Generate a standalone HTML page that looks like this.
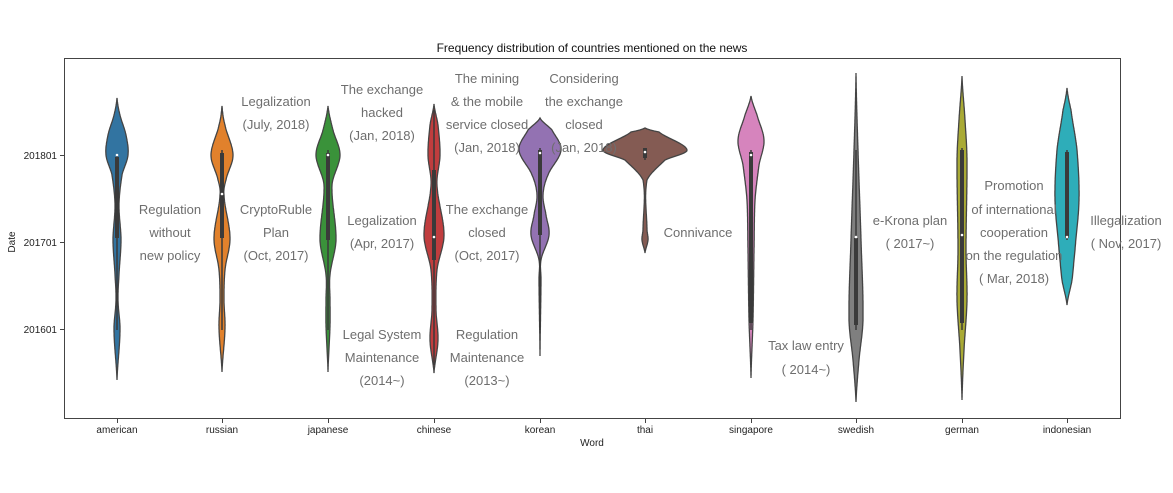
<!DOCTYPE html>
<html><head><meta charset="utf-8"><style>
body{margin:0;background:#fff;}
svg text{font-family:"Liberation Sans","DejaVu Sans",sans-serif;}
.a{font-size:13px;fill:#6e6e6e;text-anchor:middle;}
.t{font-size:10px;fill:#222;}
</style></head><body>
<svg id="s" width="1173" height="488" xmlns="http://www.w3.org/2000/svg">
<rect width="1173" height="488" fill="#fff"/>
<text x="592" y="52" font-size="12" text-anchor="middle" fill="#111">Frequency distribution of countries mentioned on the news</text>
<g id="v"></g>
<rect x="64.5" y="58.5" width="1056" height="360" fill="none" stroke="#444" stroke-width="1"/>
<g class="t" text-anchor="end">
<text x="57" y="159">201801</text><text x="57" y="246">201701</text><text x="57" y="333">201601</text>
</g>
<g stroke="#444"><line x1="60" x2="64" y1="155.5" y2="155.5"/><line x1="60" x2="64" y1="242.5" y2="242.5"/><line x1="60" x2="64" y1="329.5" y2="329.5"/></g>
<g id="xt" class="t" text-anchor="middle"></g>
<text x="592" y="446" font-size="10" text-anchor="middle" fill="#222">Word</text>
<text transform="translate(15,242) rotate(-90)" font-size="10" text-anchor="middle" fill="#222">Date</text>
<g id="ann" class="a"></g>
</svg>
<script>
var V=[
["american",117,"#3274a1",[[98,0],[115,3],[135,9],[155,11],[175,5],[205,2],[240,4],[275,2],[300,1],[330,3],[380,0]],157,238,155,155,330],
["russian",222,"#e1812c",[[106,0],[125,3],[155,11],[180,4],[195,2],[238,8],[270,3],[300,2],[328,3],[372,0]],153,238,194,150,330],
["japanese",328,"#3a923a",[[106,0],[130,5],[155,12],[185,4],[240,8],[275,2],[300,2],[325,2],[372,0]],153,240,155,150,330],
["chinese",434,"#c03d3e",[[104,0],[125,4],[155,6],[185,3],[235,10],[270,3],[310,2],[340,4],[373,0]],170,260,237,110,365],
["korean",540,"#9372b2",[[118,0],[130,12],[150,21],[175,8],[195,3],[215,6],[235,9],[260,1],[280,1],[356,0]],150,235,153,148,330],
["thai",645,"#845b53",[[128,0],[132,14],[150,42],[160,20],[180,2],[230,2],[240,3],[253,0]],148,158,152,148,160],
["singapore",751,"#d684bd",[[96,0],[115,6],[140,13],[165,8],[200,4],[250,3],[320,2],[378,0]],152,323,155,150,330],
["swedish",856,"#7f7f7f",[[73,0],[150,2],[240,5],[320,7],[360,3],[402,0]],238,325,237,150,330],
["german",962,"#a9aa35",[[76,0],[120,3],[160,5],[250,4],[300,5],[350,2],[400,0]],150,323,235,148,330],
["indonesian",1067,"#2eadb9",[[88,0],[110,4],[150,10],[200,12],[250,8],[280,5],[305,0]],152,238,237,150,240]];
function cr(p,y){for(var i=0;i<p.length-1;i++){if(y>=p[i][0]&&y<=p[i+1][0]){var p0=p[Math.max(i-1,0)],p1=p[i],p2=p[i+1],p3=p[Math.min(i+2,p.length-1)];var t=(y-p1[0])/(p2[0]-p1[0]);var m1=(p2[1]-p0[1])/2,m2=(p3[1]-p1[1])/2;var t2=t*t,t3=t2*t;return Math.max(0,(2*t3-3*t2+1)*p1[1]+(t3-2*t2+t)*m1+(-2*t3+3*t2)*p2[1]+(t3-t2)*m2);}}return 0;}
var g=document.getElementById('v'),h='',xt='';
V.forEach(function(v){var p=v[3],x=v[1],y0=p[0][0],y1=p[p.length-1][0],L=[],R=[];
for(var y=y0;y<=y1;y+=1){var w=cr(p,y);R.push((x+w).toFixed(1)+','+y);L.unshift((x-w).toFixed(1)+','+y);}
h+='<path d="M'+R.join(' L')+' L'+L.join(' L')+'Z" fill="'+v[2]+'" stroke="#444" stroke-width="1.3"/>';
h+='<line x1="'+x+'" x2="'+x+'" y1="'+v[7]+'" y2="'+v[8]+'" stroke="#3a3a3a" stroke-width="1.5"/>';
h+='<rect x="'+(x-2)+'" y="'+v[4]+'" width="4" height="'+(v[5]-v[4])+'" fill="#3a3a3a"/>';
h+='<circle cx="'+x+'" cy="'+v[6]+'" r="1.3" fill="#fff"/>';
xt+='<text x="'+x+'" y="433">'+v[0]+'</text><line x1="'+x+'.5" x2="'+x+'.5" y1="419" y2="423" stroke="#444"/>';});
g.innerHTML=h;document.getElementById('xt').innerHTML=xt;
var A=[[170,[209,232,255],["Regulation","without","new policy"]],[276,[101,124],["Legalization","(July, 2018)"]],[276,[209,232,255],["CryptoRuble","Plan","(Oct, 2017)"]],[382,[89,112,135],["The exchange","hacked","(Jan, 2018)"]],[382,[220,243],["Legalization","(Apr, 2017)"]],[382,[334,357,380],["Legal System","Maintenance","(2014~)"]],[487,[78,101,124,147],["The mining","& the mobile","service closed","(Jan, 2018)"]],[487,[209,232,255],["The exchange","closed","(Oct, 2017)"]],[487,[334,357,380],["Regulation","Maintenance","(2013~)"]],[584,[78,101,124,147],["Considering","the exchange","closed","(Jan, 2018)"]],[698,[232],["Connivance"]],[806,[345,369],["Tax law entry","( 2014~)"]],[910,[220,243],["e-Krona plan","( 2017~)"]],[1014,[185,209,232,255,278],["Promotion","of international","cooperation","on the regulation","( Mar, 2018)"]],[1126,[220,243],["Illegalization","( Nov, 2017)"]]];
var a='';A.forEach(function(t){t[2].forEach(function(s,i){a+='<text x="'+t[0]+'" y="'+(t[1][i]+5)+'">'+s+'</text>';});});
document.getElementById('ann').innerHTML=a;
</script>
</body></html>
